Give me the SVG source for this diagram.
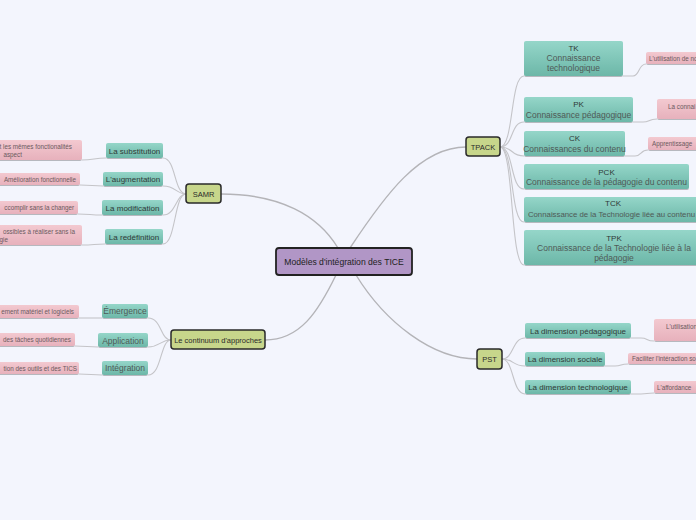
<svg xmlns="http://www.w3.org/2000/svg" width="696" height="520" viewBox="0 0 696 520">
<defs>
<linearGradient id="gTeal" x1="0" y1="0" x2="0" y2="1"><stop offset="0" stop-color="#95d6c9"/><stop offset="1" stop-color="#6cb7a8"/></linearGradient>
<linearGradient id="gPink" x1="0" y1="0" x2="0" y2="1"><stop offset="0" stop-color="#f3c9d0"/><stop offset="1" stop-color="#e7b1bc"/></linearGradient>
<filter id="sh" x="-10%" y="-20%" width="120%" height="160%"><feDropShadow dx="0" dy="1" stdDeviation="0.7" flood-color="#000" flood-opacity="0.25"/></filter>
<style>
text{font-family:"Liberation Sans",Arial,sans-serif;}
.teal{fill:url(#gTeal);filter:url(#sh);}
.pink{fill:url(#gPink);filter:url(#sh);}
.olive{fill:#c7d68b;stroke:#2a2a2a;stroke-width:1.5;}
.tl{font-size:8px;fill:#2f3a37;text-anchor:middle;}
.tg{font-size:8.5px;fill:#4f5a57;text-anchor:middle;}
.pt{font-size:6.3px;fill:#6b5a5e;}
.ot{font-size:7.5px;fill:#2a2a2a;text-anchor:middle;}
.c{fill:none;stroke:#c4c4c8;stroke-width:1.1;}
.m{fill:none;stroke:#b4b4b8;stroke-width:1.4;}
</style>
</defs>
<rect x="0" y="0" width="696" height="520" fill="#f3f5fd"/>

<g id="connectors">
<path class="m" d="M221,194 C280,194 318,215 338,248"/>
<path class="m" d="M350,248 C385,195 420,147 466,147"/>
<path class="m" d="M336,275 C318,312 300,340 265,340"/>
<path class="m" d="M356,275 C385,322 432,359 477,359"/>
<path class="c" d="M186,194 C174,194 176,158 163,158"/>
<path class="c" d="M186,194 C176,194 176,186 163,186"/>
<path class="c" d="M186,194 C176,194 176,215 163,215"/>
<path class="c" d="M186,194 C174,194 176,244 163,244"/>
<path class="c" d="M82,160 C94,160 94,158 106,158"/>
<path class="c" d="M80,185 C92,185 92,186 103,186"/>
<path class="c" d="M78,214 C90,214 90,215 102,215"/>
<path class="c" d="M82,245 C94,245 94,244 105,244"/>
<path class="c" d="M171,340 C160,340 162,318 148,318"/>
<path class="c" d="M171,340 C160,340 160,347 148,347"/>
<path class="c" d="M171,340 C160,340 162,375 148,375"/>
<path class="c" d="M79,318 C90,318 92,318 102,318"/>
<path class="c" d="M75,346 C86,346 88,347 98,347"/>
<path class="c" d="M79,374 C90,374 92,375 102,375"/>
<path class="c" d="M500,147 C514,147 510,76 524,76"/>
<path class="c" d="M500,147 C514,147 510,122 524,122"/>
<path class="c" d="M500,147 C514,147 510,156 524,156"/>
<path class="c" d="M500,147 C514,147 510,189 524,189"/>
<path class="c" d="M500,147 C514,147 510,222 524,222"/>
<path class="c" d="M500,147 C514,147 510,265 524,265"/>
<path class="c" d="M623,76 L633,76 C640,76 638,64 646,64"/>
<path class="c" d="M633,122 L643,122 C650,122 648,119 657,119"/>
<path class="c" d="M625,156 L635,156 C642,156 640,150 648,150"/>
<path class="c" d="M502,359 C514,359 512,338 525,338"/>
<path class="c" d="M502,359 C514,359 512,366 525,366"/>
<path class="c" d="M502,359 C514,359 512,394 525,394"/>
<path class="c" d="M631,338 L641,338 C648,338 646,341 654,341"/>
<path class="c" d="M605,366 L615,366 C622,366 620,364 628,364"/>
<path class="c" d="M631,394 L641,394 C648,394 646,393 654,393"/>
</g>

<g id="center"><rect x="276" y="248" width="136" height="27" rx="3" fill="#b196c6" stroke="#222" stroke-width="1.8"/><text x="344" y="265" font-size="8.6" fill="#222" text-anchor="middle">Modèles d'intégration des TICE</text></g>

<g id="samr"><rect class="olive" x="186" y="184" width="35" height="19" rx="3"/><text class="ot" x="203.5" y="196.5">SAMR</text></g>
<g id="continuum"><rect class="olive" x="171" y="330" width="94" height="19" rx="3"/><text class="ot" x="218" y="342.5">Le continuum d'approches</text></g>
<g id="tpack"><rect class="olive" x="466" y="137" width="34" height="19" rx="3"/><text class="ot" x="483" y="149.5">TPACK</text></g>
<g id="pst"><rect class="olive" x="477" y="349" width="25" height="20" rx="3"/><text class="ot" x="489.5" y="362">PST</text></g>

<g id="substitution"><rect class="teal" x="106" y="143" width="57" height="15" rx="2"/><text class="tl" x="134.5" y="153.5">La substitution</text></g>
<g id="augmentation"><rect class="teal" x="103" y="172" width="60" height="14" rx="2"/><text class="tl" x="133" y="182">L'augmentation</text></g>
<g id="modification"><rect class="teal" x="102" y="200" width="61" height="15" rx="2"/><text class="tl" x="132.5" y="210.5">La modification</text></g>
<g id="redefinition"><rect class="teal" x="105" y="229" width="58" height="15" rx="2"/><text class="tl" x="134" y="239.5">La redéfinition</text></g>

<g id="p-substitution"><rect class="pink" x="-5" y="140" width="87" height="20" rx="2"/><text class="pt" x="72" y="148.5" text-anchor="end">t les mêmes fonctionalités</text><text class="pt" x="22" y="156.5" text-anchor="end">aspect</text></g>
<g id="p-augmentation"><rect class="pink" x="-5" y="173" width="85" height="12" rx="2"/><text class="pt" x="76" y="181.5" text-anchor="end">Amélioration fonctionnelle</text></g>
<g id="p-modification"><rect class="pink" x="-5" y="201" width="83" height="13" rx="2"/><text class="pt" x="74" y="209.5" text-anchor="end">ccomplir sans la changer</text></g>
<g id="p-redefinition"><rect class="pink" x="-5" y="225" width="87" height="20" rx="2"/><text class="pt" x="75" y="233.5" text-anchor="end">ossibles à réaliser sans la</text><text class="pt" x="8" y="241.5" text-anchor="end">gie</text></g>

<g id="emergence"><rect class="teal" x="102" y="304" width="46" height="14" rx="2"/><text class="tg" x="125" y="314">Émergence</text></g>
<g id="application"><rect class="teal" x="98" y="333" width="50" height="14" rx="2"/><text class="tg" x="123" y="343.5" font-size="9">Application</text></g>
<g id="integration"><rect class="teal" x="102" y="361" width="46" height="14" rx="2"/><text class="tg" x="125" y="371">Intégration</text></g>

<g id="p-emergence"><rect class="pink" x="-5" y="305" width="84" height="13" rx="2"/><text class="pt" x="74" y="313.5" text-anchor="end">ement matériel et logiciels</text></g>
<g id="p-application"><rect class="pink" x="-5" y="333" width="80" height="13" rx="2"/><text class="pt" x="71" y="341.5" text-anchor="end">des tâches quotidiennes</text></g>
<g id="p-integration"><rect class="pink" x="-5" y="362" width="84" height="12" rx="2"/><text class="pt" x="77" y="370.5" text-anchor="end">tion des outils et des TICS</text></g>

<g id="tk"><rect class="teal" x="524" y="41" width="99" height="35" rx="2"/><text class="tl" x="573.5" y="50.5">TK</text><text class="tg" x="573.5" y="61" font-size="8">Connaissance</text><text class="tg" x="573.5" y="71" font-size="8">technologique</text></g>
<g id="pk"><rect class="teal" x="524" y="97" width="109" height="25" rx="2"/><text class="tl" x="578.5" y="107">PK</text><text class="tg" x="578.5" y="118" font-size="8">Connaissance pédagogique</text></g>
<g id="ck"><rect class="teal" x="524" y="131" width="101" height="25" rx="2"/><text class="tl" x="574.5" y="141">CK</text><text class="tg" x="574.5" y="152" font-size="8">Connaissances du contenu</text></g>
<g id="pck"><rect class="teal" x="524" y="164" width="165" height="25" rx="2"/><text class="tl" x="606.5" y="174.5">PCK</text><text class="tg" x="606.5" y="185" font-size="8">Connaissance de la pédagogie du contenu</text></g>
<g id="tck"><rect class="teal" x="524" y="197" width="180" height="25" rx="2"/><text class="tl" x="613" y="206">TCK</text><text class="tg" x="611.5" y="217" style="font-size:7.8px">Connaissance de la Technologie liée au contenu</text></g>
<g id="tpk"><rect class="teal" x="524" y="230" width="180" height="35" rx="2"/><text class="tl" x="614" y="240.5">TPK</text><text class="tg" x="614" y="251" font-size="8">Connaissance de la Technologie liée à la</text><text class="tg" x="614" y="261" font-size="8">pédagogie</text></g>

<g id="p-tk"><rect class="pink" x="646" y="52" width="60" height="12" rx="2"/><text class="pt" x="649" y="60.5" fill="#2f2a2b" font-size="6">L'utilisation de no</text></g>
<g id="p-pk"><rect class="pink" x="657" y="99" width="50" height="20" rx="2"/><text class="pt" x="668" y="108.5" fill="#8a7a7d">La connai</text></g>
<g id="p-ck"><rect class="pink" x="648" y="137" width="55" height="13" rx="2"/><text class="pt" x="652" y="145.5" fill="#7a6a6d">Apprentissage</text></g>

<g id="d-pedagogique"><rect class="teal" x="525" y="323" width="106" height="15" rx="2"/><text class="tl" x="578" y="333.5" font-size="8.5">La dimension pédagogique</text></g>
<g id="d-sociale"><rect class="teal" x="525" y="352" width="80" height="14" rx="2"/><text class="tl" x="565" y="362" font-size="8.5">La dimension sociale</text></g>
<g id="d-technologique"><rect class="teal" x="525" y="380" width="106" height="14" rx="2"/><text class="tl" x="578" y="390" font-size="8.5">La dimension technologique</text></g>

<g id="p-pedagogique"><rect class="pink" x="654" y="319" width="50" height="22" rx="2"/><text class="pt" x="666" y="329" fill="#8a7a7d" font-size="5.9">L'utilisation</text></g>
<g id="p-sociale"><rect class="pink" x="628" y="353" width="75" height="11" rx="2"/><text class="pt" x="632" y="361" fill="#7a6a6d" font-size="6">Faciliter l'intéraction so</text></g>
<g id="p-technologique"><rect class="pink" x="654" y="381" width="50" height="12" rx="2"/><text class="pt" x="657" y="389.5" fill="#7a6a6d">L'affordance</text></g>
</svg>
